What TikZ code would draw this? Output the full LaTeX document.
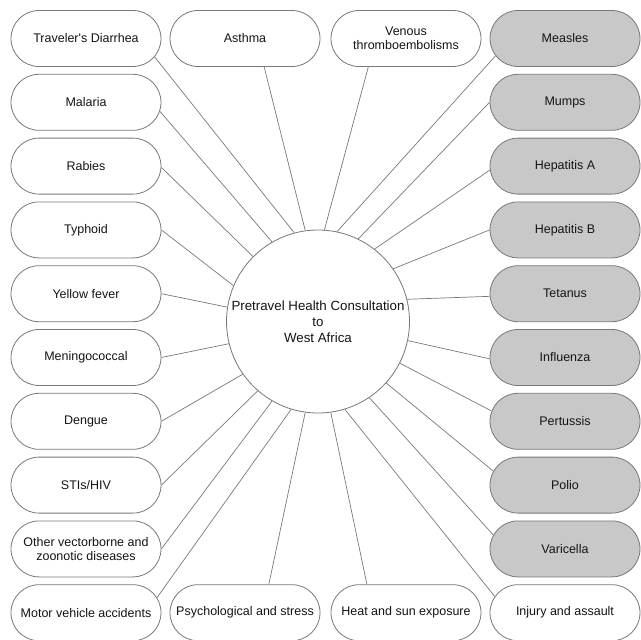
\documentclass[tikz,border=0pt]{standalone}
\usepackage{fontspec}
\setmainfont{Liberation Sans}
\usetikzlibrary{shapes.misc}
\definecolor{boxline}{RGB}{120,120,120}
\definecolor{linkc}{RGB}{120,120,120}
\definecolor{vacc}{RGB}{200,200,200}
\definecolor{textc}{RGB}{20,20,20}
\begin{document}
\begin{tikzpicture}[x=1pt,y=-1pt,
  box/.style={rounded rectangle, draw=boxline, line width=0.8pt, minimum width=150pt,
    minimum height=56pt, inner sep=0pt, align=center,
    font=\fontsize{12.5}{14}\selectfont, text=textc, fill=white},
  vbox/.style={box, fill=vacc},
  link/.style={draw=linkc, line width=0.7pt},
  hub/.style={circle, draw=boxline, line width=0.8pt, minimum size=183pt, inner sep=0pt,
    align=center, font=\fontsize{13.3}{16}\selectfont, text=textc, fill=white}]
\useasboundingbox (0,0) rectangle (641,640);

% hub
\node[hub] (hub) at (318,321.5) {Pretravel Health Consultation\\to\\West Africa};

% left column
\node[box] (trav) at (86,38.5)  {Traveler\textquotesingle s Diarrhea};
\node[box] (mal)  at (86,102.3) {Malaria};
\node[box] (rab)  at (86,166.1) {Rabies};
\node[box] (typ)  at (86,229.9) {Typhoid};
\node[box] (yel)  at (86,293.7) {Yellow fever};
\node[box] (men)  at (86,357.5) {Meningococcal};
\node[box] (den)  at (86,421.3) {Dengue};
\node[box] (sti)  at (86,485.1) {STIs/HIV};
\node[box] (oth)  at (86,548.9) {Other vectorborne and\\zoonotic diseases};
\node[box] (mot)  at (86,612.7) {Motor vehicle accidents};

% top row
\node[box] (asth) at (245,38.5) {Asthma};
\node[box] (ven)  at (406,38.5) {Venous\\thromboembolisms};

% right column (vaccines)
\node[vbox] (meas) at (565,38.5)  {Measles};
\node[vbox] (mump) at (565,102.3) {Mumps};
\node[vbox] (hepa) at (565,166.1) {Hepatitis A};
\node[vbox] (hepb) at (565,229.9) {Hepatitis B};
\node[vbox] (tet)  at (565,293.7) {Tetanus};
\node[vbox] (infl) at (565,357.5) {Influenza};
\node[vbox] (pert) at (565,421.3) {Pertussis};
\node[vbox] (pol)  at (565,485.1) {Polio};
\node[vbox] (var)  at (565,548.9) {Varicella};

% bottom row
\node[box] (psy)  at (245,612.7) {Psychological and stress};
\node[box] (heat) at (406,612.7) {Heat and sun exposure};
\node[box] (inj)  at (565,612.7) {Injury and assault};

% connectors
\draw[link] (trav.-15) -- (hub.105);
\draw[link] (mal.-7)   -- (hub.120);
\draw[link] (rab.-1)   -- (hub.135);
\draw[link] (typ.0)    -- (hub.157);
\draw[link] (yel.0)    -- (hub.171);
\draw[link] (men.0)    -- (hub.194);
\draw[link] (den.0)    -- (hub.215);
\draw[link] (sti.0)    -- (hub.229);
\draw[link] (oth.0)    -- (hub.240);
\draw[link] (mot.12)   -- (hub.253);
\draw[link] (asth.-56) -- (hub.98);
\draw[link] (ven.217)  -- (hub.86);
\draw[link] (meas.194) -- (hub.78);
\draw[link] (mump.180) -- (hub.64);
\draw[link] (hepa.183) -- (hub.52);
\draw[link] (hepb.180) -- (hub.35);
\draw[link] (tet.182)  -- (hub.14);
\draw[link] (infl.181) -- (hub.348);
\draw[link] (pert.172) -- (hub.333);
\draw[link] (pol.169)  -- (hub.318);
\draw[link] (var.169)  -- (hub.304.5);
\draw[link] (inj.167)  -- (hub.287);
\draw[link] (psy.50)   -- (hub.262.5);
\draw[link] (heat.144) -- (hub.278);
\end{tikzpicture}
\end{document}
